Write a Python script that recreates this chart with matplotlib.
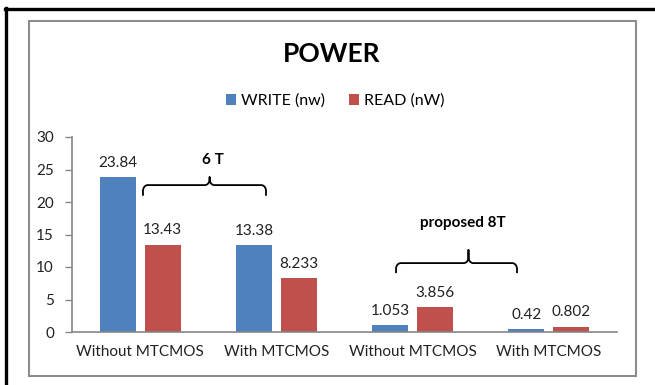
import numpy as np
import matplotlib.pyplot as plt
from matplotlib.patches import Rectangle
from matplotlib.lines import Line2D

plt.rcParams['font.family'] = ['Lato', 'DejaVu Sans']

# 数据
categories = ['Without MTCMOS', 'With MTCMOS', 'Without MTCMOS', 'With MTCMOS']
write_nw = [23.84, 13.38, 1.053, 0.42]
read_nw = [13.43, 8.233, 3.856, 0.802]
write_labels = ['23.84', '13.38', '1.053', '0.42']
read_labels = ['13.43', '8.233', '3.856', '0.802']

BLUE = '#4F81BD'
RED = '#C0504D'
GREY = '#868686'

fig = plt.figure(figsize=(6.55, 3.85), dpi=100)

# 外框（左、上黑线）和图表区灰框
fig.add_artist(Line2D([6 / 655, 6 / 655], [0, 1 - 8 / 385], color='black', lw=2.4))
fig.add_artist(Line2D([4.8 / 655, 1], [1 - 8.5 / 385, 1 - 8.5 / 385], color='black', lw=2.4))
fig.add_artist(Rectangle((29 / 655, 1 - 376 / 385), (636 - 29) / 655, (376 - 21) / 385,
                         fill=False, edgecolor='#8c8c8c', lw=1.5))

ax = fig.add_axes([72 / 655, 1 - 332 / 385, (617 - 72) / 655, (332 - 137) / 385])

x = np.arange(len(categories))
w = 0.265
off = 0.165
b1 = ax.bar(x - off, write_nw, w, color=BLUE)
b2 = ax.bar(x + off, read_nw, w, color=RED)

for bars, labels in ((b1, write_labels), (b2, read_labels)):
    for rect, lab in zip(bars, labels):
        ax.annotate(lab, (rect.get_x() + rect.get_width() / 2, rect.get_height()),
                    xytext=(0, 7.5), textcoords='offset points',
                    ha='center', va='baseline', fontsize=11, color='#222222')

ax.set_xlim(-0.5, 3.5)
ax.set_ylim(0, 30)
ax.set_yticks(range(0, 31, 5))
ax.set_xticks(x)
ax.set_xticklabels(categories, fontsize=11, color='#222222')
ax.tick_params(axis='x', length=0, pad=9)
ax.tick_params(axis='y', length=5, width=1, color=GREY, labelsize=11,
               labelcolor='#222222', pad=8)
for s in ('top', 'right'):
    ax.spines[s].set_visible(False)
for s in ('left', 'bottom'):
    ax.spines[s].set_color(GREY)
    ax.spines[s].set_linewidth(1.2)


def brace(x0, x1, xm, y_tip, y_flat, y_peak, rx=0.035, ry=0.9):
    # 花括号：两端向下弯，中间向上凸
    t = np.linspace(0, np.pi / 2, 12)
    xs = [x0]
    ys = [y_tip]
    xs += list(x0 + rx - rx * np.cos(t))
    ys += list(y_flat - ry + ry * np.sin(t))
    xs += list(xm - rx + rx * np.sin(t))
    ys += list(y_flat + ry - ry * np.cos(t))
    xs += [xm, xm]
    ys += [y_peak, y_flat + ry]
    xs += list(xm + rx - rx * np.cos(t))
    ys += list(y_flat + ry - ry * np.sin(t))
    xs += list(x1 - rx + rx * np.sin(t))
    ys += list(y_flat - ry + ry * np.cos(t))
    xs += [x1]
    ys += [y_tip]
    ax.plot(xs, ys, color='black', lw=1.3, clip_on=False, solid_joinstyle='round')


brace(0.021, 0.924, 0.51, 21.1, 22.6, 23.8)
ax.text(0.535, 26.5, '6 T', ha='center', va='center', fontsize=11, fontweight='bold')
brace(1.878, 2.766, 2.41, 9.2, 10.6, 12.6)
ax.text(2.37, 16.8, 'proposed 8T', ha='center', va='center', fontsize=11, fontweight='bold')

fig.text(332 / 655, 1 - 54 / 385, 'POWER', ha='center', va='center',
         fontsize=19, fontweight='bold')

# 图例
leg = fig.legend([b1, b2], ['WRITE (nw)', 'READ (nW)'], loc='center',
                 bbox_to_anchor=(335 / 655, 1 - 101 / 385), ncol=2, frameon=False,
                 fontsize=11.5, handlelength=0.65, handleheight=0.65,
                 handletextpad=0.3, columnspacing=1.5)

fig.savefig('out.png', dpi=100, facecolor='white')
